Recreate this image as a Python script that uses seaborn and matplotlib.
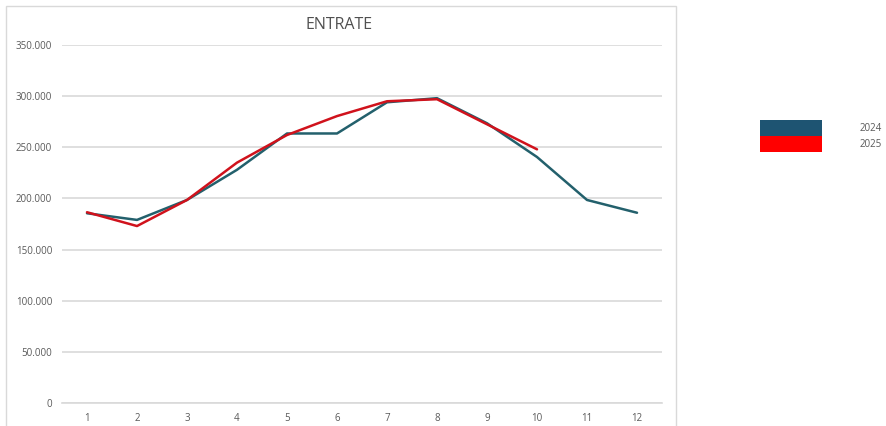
import pandas as pd
import matplotlib
matplotlib.use("Agg")
import matplotlib.pyplot as plt
from matplotlib.patches import Patch, Rectangle
from matplotlib.ticker import FuncFormatter
import seaborn as sns

# monthly values
mesi = list(range(1, 13))
entrate_2024 = [185500, 179000, 198500, 228000, 263500, 263500, 294000, 298000, 273500, 240500, 198500, 186000]
entrate_2025 = [186500, 173000, 198500, 235000, 262000, 280500, 295000, 297000, 272500, 248000]
anni = ["2024", "2025"]
colori = {"2024": "#23606c", "2025": "#d0121c"}
colori_legenda = {"2024": "#1e5472", "2025": "#ff0000"}

df = pd.concat([
    pd.DataFrame({"mese": mesi, "valore": entrate_2024, "anno": "2024"}),
    pd.DataFrame({"mese": mesi[:len(entrate_2025)], "valore": entrate_2025, "anno": "2025"}),
])

sns.set_style("white")
plt.rcParams["font.family"] = ["Open Sans", "DejaVu Sans"]

fig = plt.figure(figsize=(8.87, 4.26), dpi=100)
ax = fig.add_axes([62 / 887, 1 - 403 / 426, 600 / 887, 358 / 426])

sns.lineplot(data=df, x="mese", y="valore", hue="anno", palette=colori,
             linewidth=1.8, ax=ax, legend=False, zorder=3)

ax.set_xlim(0.5, 12.5)
ax.set_ylim(0, 350000)
ax.set_xticks(mesi)
ax.set_yticks(range(0, 350001, 50000))
ax.yaxis.set_major_formatter(FuncFormatter(lambda v, p: f"{int(v):,}".replace(",", ".")))
ax.grid(axis="y", color="#d9d9d9", linewidth=1.2)
ax.set_axisbelow(True)
for s in ["left", "right", "top"]:
    ax.spines[s].set_visible(False)
ax.spines["bottom"].set_color("#d9d9d9")
ax.spines["bottom"].set_linewidth(1.2)
ax.tick_params(axis="both", length=0, labelsize=7, colors="#595959", pad=7)
ax.set_xlabel("")
ax.set_ylabel("")

# title is centred on the whole chart frame, not on the plot area
fig.text(339 / 887, 1 - 25 / 426, "ENTRATE", ha="center", va="center",
         fontsize=11.5, color="#505050", fontweight="medium")

# light frame around the chart area
fig.patches.append(Rectangle((6 / 887, -0.05), 670 / 887, 1 - 6 / 426 + 0.05,
                             transform=fig.transFigure, fill=False,
                             edgecolor="#d9d9d9", linewidth=1))

handles = [Patch(facecolor=colori_legenda[a], edgecolor="none", label=a) for a in anni]
fs = 7
fpx = fs * 100 / 72
fig.legend(handles=handles, loc="upper left", bbox_to_anchor=(759 / 887, 1 - 119 / 426),
           frameon=False, fontsize=fs, labelcolor="#595959",
           handlelength=62 / fpx, handleheight=2.15, handletextpad=38 / fpx,
           labelspacing=0.0, borderpad=0.1, borderaxespad=0)

fig.savefig("out.png", dpi=100)
